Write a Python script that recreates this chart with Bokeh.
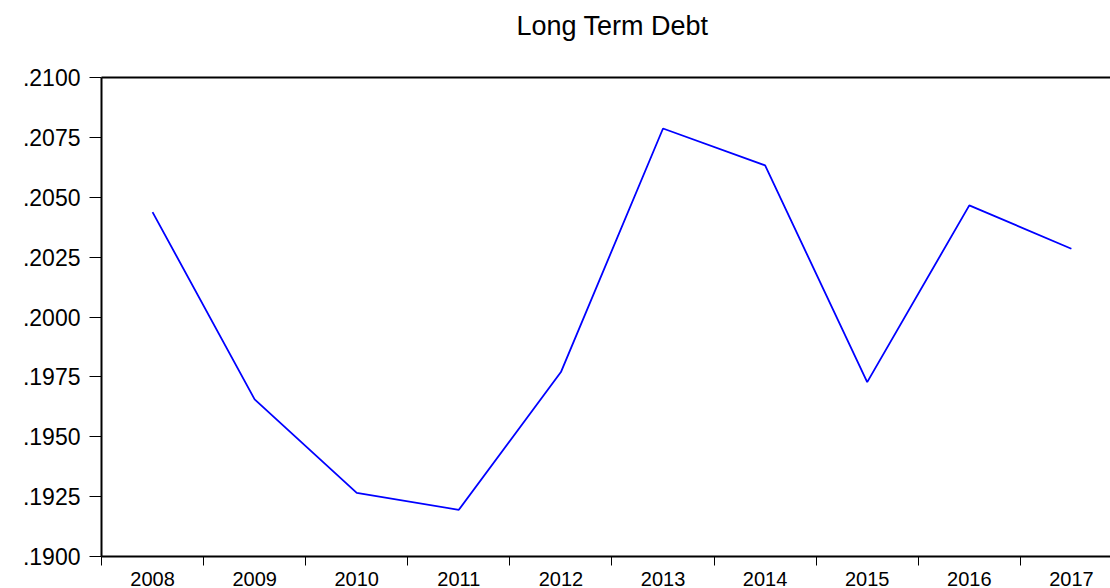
from bokeh.plotting import figure
from bokeh.models import Range1d, FixedTicker, LinearAxis, Title
from bokeh.embed import file_html
from bokeh.resources import INLINE

years = ["2008", "2009", "2010", "2011", "2012", "2013", "2014", "2015", "2016", "2017"]
debt = [0.20438, 0.19656, 0.19266, 0.19195, 0.19770, 0.20787, 0.20633, 0.19728, 0.20466, 0.20285]
y_ticks = [0.1900, 0.1925, 0.1950, 0.1975, 0.2000, 0.2025, 0.2050, 0.2075, 0.2100]
y_tick_labels = [".1900", ".1925", ".1950", ".1975", ".2000", ".2025", ".2050", ".2075", ".2100"]
title_text = "Long Term Debt"

FONT = "Liberation Sans"
n = len(years)
x_pos = [i + 0.5 for i in range(n)]
boundaries = list(range(n + 1))

p = figure(width=1110, height=588, output_backend="svg", toolbar_location=None,
           x_range=Range1d(0, 9.883), y_range=Range1d(y_ticks[0], y_ticks[-1]),
           min_border_left=101, min_border_right=0, min_border_top=77, min_border_bottom=32)

p.title.text = ""
p.outline_line_color = None
p.grid.grid_line_color = None
p.background_fill_color = "white"
p.border_fill_color = "white"

# y axis
ya = p.yaxis[0]
ya.ticker = FixedTicker(ticks=y_ticks, minor_ticks=[])
ya.major_label_overrides = {t: l for t, l in zip(y_ticks, y_tick_labels)}
ya.major_label_text_font = FONT
ya.major_label_text_font_size = "23px"
ya.major_label_text_color = "black"
ya.major_tick_out = 12
ya.major_tick_in = 0
ya.major_tick_line_color = "black"
ya.major_tick_line_width = 1
ya.axis_line_color = "black"
ya.axis_line_width = 2
ya.major_label_standoff = 9

# x axis: tick marks at year boundaries, year labels centred in each span
xa = p.xaxis[0]
xa.ticker = FixedTicker(ticks=x_pos, minor_ticks=boundaries)
xa.major_label_overrides = {x: y for x, y in zip(x_pos, years)}
xa.major_label_text_font = FONT
xa.major_label_text_font_size = "20px"
xa.major_label_text_color = "black"
xa.major_label_standoff = 6
xa.major_tick_out = 0
xa.major_tick_in = 0
xa.minor_tick_out = 9
xa.minor_tick_in = 0
xa.minor_tick_line_color = "black"
xa.minor_tick_line_width = 1
xa.axis_line_color = "black"
xa.axis_line_width = 2

# top frame line; an invisible tick gives it height so the title sits higher
top = LinearAxis(ticker=FixedTicker(ticks=[n / 2], minor_ticks=[]), axis_line_color="black",
                 axis_line_width=2, major_tick_out=25, major_tick_in=0,
                 major_tick_line_color=None, minor_tick_out=0, minor_tick_in=0,
                 major_label_standoff=0, major_label_text_font_size="0px",
                 major_label_overrides={n / 2: ""})
p.add_layout(top, "above")

p.add_layout(Title(text=title_text, align="left", offset=415, vertical_align="top", standoff=20,
                   text_font=FONT, text_font_size="27px", text_font_style="normal",
                   text_color="black"), "above")

p.line(x_pos, debt, line_color="#0000ff", line_width=1.8)

open("out.html", "w").write(file_html(p, INLINE))
